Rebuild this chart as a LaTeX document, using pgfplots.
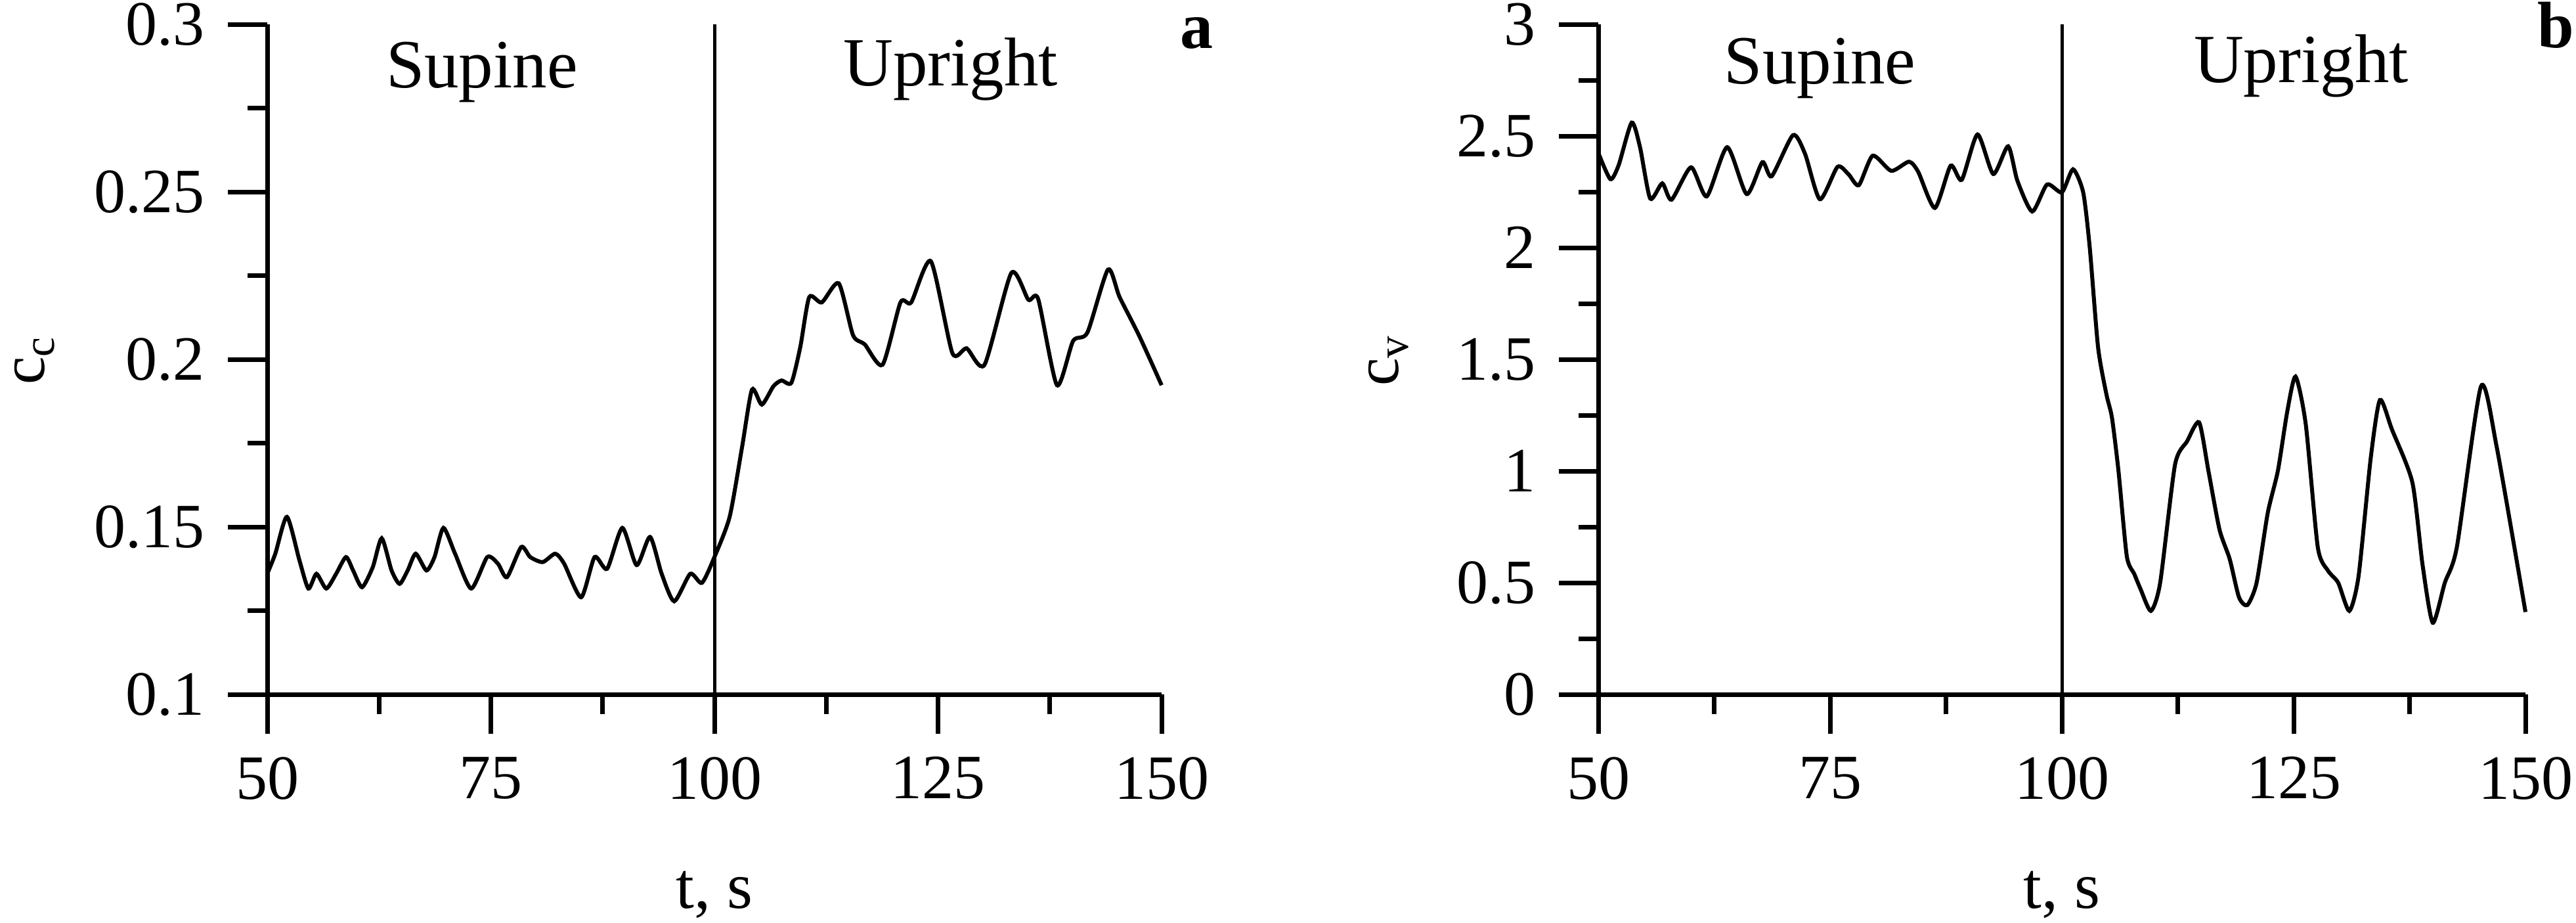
\documentclass[border=0pt]{standalone}
\usepackage{fontspec}
\setmainfont{Liberation Serif}
\usepackage{pgfplots}
\pgfplotsset{compat=1.18}
\begin{document}
\begin{tikzpicture}
\pgfplotsset{
  myax/.style={
    scale only axis,
    axis lines=left,
    axis line style={-, line width=0.7pt},
    xmin=50, xmax=150,
    xtick={50,75,100,125,150},
    minor x tick num=1,
    minor y tick num=1,
    tick align=outside,
    major tick length=6pt,
    minor tick length=3pt,
    tick style={line width=0.7pt, black},
    tick label style={font=\fontsize{9.6}{11}\selectfont},
    /pgf/number format/assume math mode=true,
    label style={font=\fontsize{10.5}{12}\selectfont},
    every axis x label/.style={at={(axis description cs:0.5,-0.3186)}, anchor=base},
    xlabel={t, s},
    clip=false,
    height=102pt,
  },
  curve/.style={black, line width=0.6pt, smooth, tension=0.4, mark=none},
  sep/.style={black, line width=0.5pt, mark=none},
}
% ---------------- panel a ----------------
\begin{axis}[myax, at={(40.7pt,34.7pt)}, anchor=south west, width=136.2pt,
  ymin=0.1, ymax=0.3, ytick={0.1,0.15,0.2,0.25,0.3},
  every axis y label/.style={at={(axis description cs:-0.249,0.5)}, rotate=90, anchor=base, inner sep=0pt, font=\fontsize{9.6}{11}\selectfont},
  ylabel={c\textsubscript{c}}]
\addplot[curve] coordinates {
(50,0.136) (50.9,0.142) (52.2,0.153) (53.6,0.140) (54.6,0.1316) (55.5,0.136)
(56.6,0.1316) (57.7,0.136) (58.8,0.141) (59.6,0.137) (60.6,0.132) (61.8,0.138)
(62.8,0.1466) (63.9,0.137) (64.8,0.133) (65.7,0.137) (66.6,0.142) (67.8,0.137)
(68.7,0.141) (69.7,0.1497) (71.0,0.142) (72.8,0.1316) (74.6,0.141) (75.8,0.139)
(76.8,0.135) (78.4,0.144) (79.4,0.141) (80.8,0.1395) (82.2,0.142) (83.2,0.139)
(85.1,0.129) (86.6,0.141) (88.0,0.1375) (89.7,0.1497) (91.3,0.1386) (92.8,0.147)
(94.1,0.136) (95.5,0.1278) (97.3,0.136) (98.6,0.1333) (100,0.141) (101.7,0.153)
(103.1,0.174) (104.2,0.191) (105.3,0.1865) (106.6,0.192) (107.5,0.1937) (108.6,0.193)
(109.6,0.2037) (110.6,0.2186) (112.0,0.217) (113.9,0.2227) (115.5,0.2072) (116.8,0.2045)
(118.8,0.1984) (120.8,0.217) (122.0,0.217) (124.2,0.2293) (126.6,0.2019) (128.2,0.2033)
(130.2,0.1984) (133.2,0.2258) (135.1,0.2178) (136.2,0.218) (138.3,0.1923) (140.1,0.2055)
(141.7,0.208) (144.0,0.2268) (145.3,0.2186) (147.5,0.207) (150,0.1923)
};
\addplot[sep] coordinates {(100,0.1) (100,0.3)};
\node[anchor=base, font=\fontsize{10.5}{12}\selectfont] at (axis cs:74,0.281) {Supine};
\node[anchor=base, font=\fontsize{10.5}{12}\selectfont] at (axis cs:126.4,0.2816) {Upright};
\node[anchor=base, font=\fontsize{10}{12}\selectfont\bfseries] at (axis cs:153.9,0.2929) {a};
\end{axis}
% ---------------- panel b ----------------
\begin{axis}[myax, at={(243.4pt,34.7pt)}, anchor=south west, width=141.2pt,
  ymin=0, ymax=3, ytick={0,0.5,1,1.5,2,2.5,3},
  every axis y label/.style={at={(axis description cs:-0.216,0.5)}, rotate=90, anchor=base, inner sep=0pt, font=\fontsize{9.6}{11}\selectfont},
  ylabel={c\textsubscript{v}}]
\addplot[curve] coordinates {
(50,2.425) (51.3,2.307) (52.2,2.37) (53.6,2.56) (54.5,2.45) (55.6,2.22)
(56.9,2.288) (57.9,2.215) (60.0,2.36) (61.7,2.23) (63.9,2.45) (66.0,2.24)
(67.7,2.383) (68.7,2.32) (71.0,2.504) (72.3,2.42) (73.9,2.217) (75.8,2.362)
(77.0,2.328) (78.1,2.28) (79.6,2.412) (81.6,2.344) (83.5,2.385) (84.5,2.34)
(86.3,2.178) (88.0,2.367) (89.2,2.304) (90.9,2.507) (92.6,2.33) (94.2,2.454)
(95.2,2.3) (96.8,2.162) (98.4,2.283) (100,2.248) (101.2,2.351) (102.3,2.247)
(103.0,2.003) (103.9,1.555) (104.8,1.344) (105.4,1.239) (106.1,1.002) (107.0,0.619)
(107.8,0.54) (108.5,0.47) (109.6,0.374) (110.6,0.5) (112.2,1.028) (113.5,1.133)
(114.8,1.218) (115.8,1.002) (117.0,0.738) (118.1,0.606) (119.1,0.435) (120.0,0.40)
(121.0,0.5) (122.2,0.812) (123.3,1.002) (124.3,1.265) (125.2,1.423) (126.3,1.21)
(127.6,0.659) (128.7,0.554) (129.8,0.5) (131.0,0.374) (132.0,0.53) (133.3,1.055)
(134.3,1.318) (135.6,1.186) (137.8,0.949) (138.9,0.58) (140.0,0.321) (141.3,0.50)
(142.6,0.66) (145.2,1.379) (146.9,1.107) (150,0.369)
};
\addplot[sep] coordinates {(100,0) (100,3)};
\node[anchor=base, font=\fontsize{10.5}{12}\selectfont] at (axis cs:73.9,2.735) {Supine};
\node[anchor=base, font=\fontsize{10.5}{12}\selectfont] at (axis cs:125.8,2.741) {Upright};
\node[anchor=base, font=\fontsize{10}{12}\selectfont\bfseries] at (axis cs:153.3,2.897) {b};
\end{axis}
\pgfresetboundingbox
\path[use as bounding box] (0,0) rectangle (392.3pt,140.4pt);
\end{tikzpicture}
\end{document}
